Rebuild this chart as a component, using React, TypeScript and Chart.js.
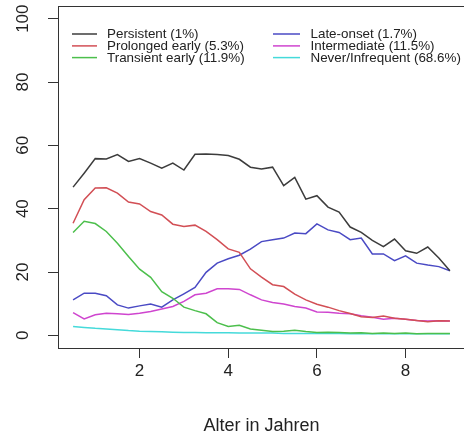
import React, { useEffect, useRef } from 'react';
import { Chart, registerables } from 'chart.js';

Chart.register(...registerables);

// Age in years (x values)
const ages = [
  0.5, 0.75, 1.0, 1.25, 1.5, 1.75, 2.0, 2.25, 2.5, 2.75, 3.0, 3.25,
  3.5, 3.75, 4.0, 4.25, 4.5, 4.75, 5.0, 5.25, 5.5, 5.75, 6.0, 6.25,
  6.5, 6.75, 7.0, 7.25, 7.5, 7.75, 8.0, 8.25, 8.5, 8.75, 9.0,
];

const seriesNames = [
  'Persistent (1%)',
  'Prolonged early (5.3%)',
  'Transient early (11.9%)',
  'Late-onset (1.7%)',
  'Intermediate (11.5%)',
  'Never/Infrequent (68.6%)',
];

const persistent = [
  46.8, 51.2, 55.8, 55.7, 57.1, 54.9, 55.8, 54.4, 52.8, 54.4, 52.2, 57.2,
  57.3, 57.1, 56.8, 55.6, 53.1, 52.5, 53.1, 47.3, 49.9, 43.0, 44.1, 40.5,
  38.9, 34.2, 32.5, 30.0, 28.0, 30.4, 26.7, 25.9, 27.9, 24.4, 20.4,
];
const prolongedEarly = [
  35.4, 42.8, 46.5, 46.6, 44.9, 42.1, 41.5, 39.1, 38.0, 35.1, 34.4, 34.8,
  32.8, 30.2, 27.3, 26.2, 21.0, 18.4, 16.0, 15.4, 13.0, 11.2, 9.8, 8.9,
  7.8, 6.9, 5.9, 5.6, 6.1, 5.4, 5.1, 4.7, 4.3, 4.6, 4.5,
];
const transientEarly = [
  32.5, 36.0, 35.3, 32.8, 29.1, 24.9, 20.9, 18.3, 13.8, 11.7, 8.9, 7.8,
  6.8, 4.0, 2.8, 3.2, 2.0, 1.6, 1.2, 1.3, 1.6, 1.2, 0.9, 1.0,
  0.9, 0.7, 0.8, 0.6, 0.7, 0.6, 0.7, 0.5, 0.6, 0.6, 0.6,
];
const lateOnset = [
  11.2, 13.3, 13.3, 12.5, 9.6, 8.6, 9.3, 9.9, 8.9, 11.2, 13.1, 15.1,
  19.9, 22.8, 24.2, 25.3, 27.2, 29.6, 30.2, 30.7, 32.3, 32.1, 35.2, 33.3,
  32.5, 30.2, 30.7, 25.7, 25.7, 23.6, 25.1, 22.8, 22.2, 21.7, 20.4,
];
const intermediate = [
  7.2, 5.2, 6.5, 7.0, 6.8, 6.6, 7.0, 7.5, 8.3, 9.1, 10.7, 12.8,
  13.3, 14.7, 14.7, 14.5, 12.8, 11.2, 10.4, 9.9, 9.1, 8.6, 7.4, 7.3,
  7.0, 6.8, 6.2, 5.7, 5.1, 5.4, 5.1, 4.7, 4.5, 4.6, 4.5,
];
const neverInfrequent = [
  2.8, 2.5, 2.2, 2.0, 1.8, 1.5, 1.3, 1.2, 1.1, 1.0, 0.9, 0.9,
  0.8, 0.8, 0.8, 0.7, 0.7, 0.7, 0.7, 0.6, 0.6, 0.6, 0.6, 0.6,
  0.6, 0.5, 0.5, 0.5, 0.5, 0.5, 0.5, 0.5, 0.5, 0.5, 0.5,
];

const seriesColors = ['#3c3c3c', '#d24f55', '#4cbf4c', '#4a4ac4', '#cf45cf', '#45dada'];

const xTickValues = [2, 4, 6, 8];
const yTickValues = [0, 20, 40, 60, 80, 100];
const xTitle = 'Alter in Jahren';

const FONT = '"Liberation Sans", Arial, Helvetica, sans-serif';
const INK = '#222';
const AXIS = '#333';

export default function App() {
  const ref = useRef<HTMLCanvasElement>(null);

  useEffect(() => {
    const canvas = ref.current;
    if (!canvas) return;
    const series = [persistent, prolongedEarly, transientEarly, lateOnset, intermediate, neverInfrequent];
    const datasets = series.map((vals, i) => ({
      label: seriesNames[i],
      data: vals.map((v, j) => ({ x: ages[j], y: v })),
      borderColor: seriesColors[i],
      backgroundColor: seriesColors[i],
      borderWidth: 1.5,
      pointRadius: 0,
      tension: 0,
      fill: false,
    }));

    const rStyle = {
      id: 'rStyle',
      afterDraw(chart: any) {
        const { ctx, chartArea: a, scales } = chart;
        ctx.save();
        // full box
        ctx.strokeStyle = AXIS;
        ctx.lineWidth = 1;
        ctx.strokeRect(
          Math.round(a.left) + 0.5,
          Math.round(a.top) + 0.5,
          Math.round(a.right - a.left),
          Math.round(a.bottom - a.top)
        );
        // rotated y tick labels
        ctx.fillStyle = INK;
        ctx.font = `17px ${FONT}`;
        ctx.textAlign = 'center';
        ctx.textBaseline = 'alphabetic';
        yTickValues.forEach((v) => {
          const y = scales.y.getPixelForValue(v);
          ctx.save();
          ctx.translate(28, y);
          ctx.rotate(-Math.PI / 2);
          ctx.fillText(String(v), 0, 0);
          ctx.restore();
        });
        // legend (two columns, column-major)
        const cols = [
          { x1: 72, x2: 97, tx: 107 },
          { x1: 273, x2: 300, tx: 310.5 },
        ];
        const rows = [34, 45.9, 57.6];
        ctx.font = `13.4px ${FONT}`;
        ctx.textAlign = 'left';
        ctx.textBaseline = 'middle';
        chart.data.datasets.forEach((ds: any, i: number) => {
          const c = cols[Math.floor(i / 3)];
          const y = rows[i % 3];
          ctx.strokeStyle = ds.borderColor;
          ctx.lineWidth = 1.5;
          ctx.beginPath();
          ctx.moveTo(c.x1, y);
          ctx.lineTo(c.x2, y);
          ctx.stroke();
          ctx.fillStyle = INK;
          ctx.fillText(ds.label, c.tx, y + 0.5);
        });
        ctx.restore();
      },
    };

    const gridOpts = {
      display: true,
      drawOnChartArea: false,
      drawTicks: true,
      tickLength: 10,
      tickColor: AXIS,
      color: AXIS,
      lineWidth: 1,
    };

    const chart = new Chart(canvas, {
      type: 'line',
      data: { datasets },
      options: {
        responsive: false,
        animation: false,
        events: [],
        layout: { padding: { top: 6, right: 5, bottom: 0, left: 0 } },
        plugins: {
          legend: { display: false },
          tooltip: { enabled: false },
        },
        scales: {
          x: {
            type: 'linear',
            min: 0.16,
            max: 9.34,
            afterBuildTicks: (s: any) => {
              s.ticks = xTickValues.map((v) => ({ value: v }));
            },
            afterFit: (s: any) => {
              s.height = 88;
            },
            grid: gridOpts,
            border: { display: true, color: AXIS, width: 1 },
            ticks: {
              color: INK,
              font: { family: FONT, size: 17, lineHeight: 1 },
              padding: 4.5,
              maxRotation: 0,
              autoSkip: false,
            },
            title: {
              display: true,
              text: xTitle,
              color: INK,
              font: { family: FONT, size: 18, lineHeight: 1 },
              padding: { top: 0, bottom: 1 },
            },
          },
          y: {
            type: 'linear',
            min: -4,
            max: 104,
            afterBuildTicks: (s: any) => {
              s.ticks = yTickValues.map((v) => ({ value: v }));
            },
            afterFit: (s: any) => {
              s.width = 58;
            },
            grid: gridOpts,
            border: { display: true, color: AXIS, width: 1 },
            ticks: { display: false },
          },
        },
      } as any,
      plugins: [rStyle],
    });
    return () => chart.destroy();
  }, []);

  return (
    <div
      style={{
        position: 'absolute',
        left: 0,
        top: 0,
        width: 464,
        height: 436,
        overflow: 'hidden',
        background: '#fff',
      }}
    >
      <canvas ref={ref} width={470} height={436} style={{ display: 'block' }} />
    </div>
  );
}
